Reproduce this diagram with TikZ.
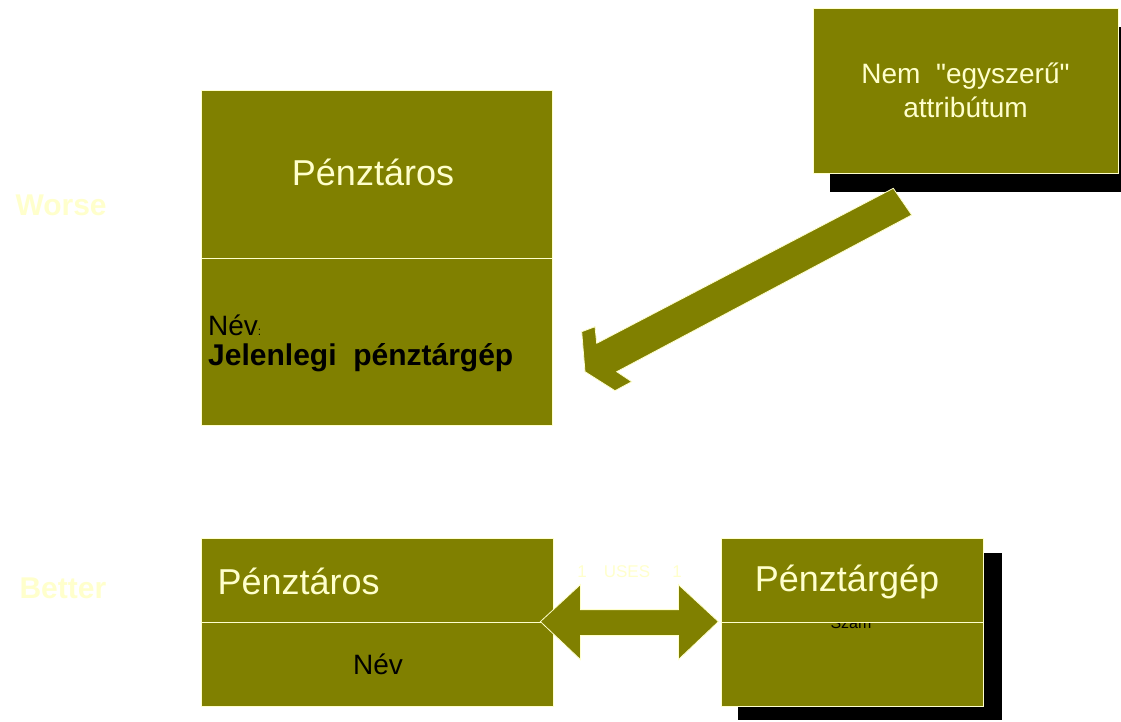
\documentclass[tikz,border=0pt]{standalone}
\usepackage{fontspec}
\setmainfont{Liberation Sans}[Ligatures=TeXOff]
\definecolor{boxolive}{HTML}{808000}
\definecolor{paleyellow}{HTML}{FFFFCC}

\begin{document}
\begin{tikzpicture}[x=1pt,y=-1pt,
    cls/.style={rectangle,fill=boxolive,draw=paleyellow,line width=0.8pt,inner sep=0pt},
    blockarrow/.style={fill=boxolive,draw=paleyellow,line width=0.8pt,line join=miter},
    title/.style={text=paleyellow,font=\fontsize{36}{40}\selectfont},
    side/.style={text=paleyellow,font=\bfseries\fontsize{30}{34}\selectfont},
    attr/.style={text=black,font=\fontsize{28}{32}\selectfont},
    mult/.style={text=paleyellow,font=\fontsize{17}{20}\selectfont}]

  \useasboundingbox[fill=white] (0,0) rectangle (1121,721);

  % shadows
  \fill[black] (830,27) rectangle (1121,192);
  \fill[black] (738,553) rectangle (1002,720);

  % worse
  \node[side,anchor=base west] (worse) at (12,215) {Worse};
  \node[cls,minimum width=351,minimum height=168] (cashier) at (376.5,174) {};
  \node[title] (cashiertitle) at (373,172) {Pénztáros};
  \node[cls,minimum width=351,minimum height=167] (cashierattr) at (376.5,341.5) {};
  \node[attr,anchor=base west,inner sep=0pt] (namelbl) at (208,335)
        {Név{\fontsize{12}{14}\selectfont:}};
  \node[attr,anchor=base west,inner sep=0pt,font=\bfseries\fontsize{30}{32}\selectfont]
        (nameval) at (208,365) {Jelenlegi\ \ pénztárgép};

  \node[cls,minimum width=305,minimum height=165,text=paleyellow,align=center,
        font=\fontsize{28}{34}\selectfont] (note) at (965.5,90.5)
        {Nem\ \ "egyszerű"\\attribútum};

  \draw[blockarrow] (893.3,188.3) -- (911.7,215) -- (616.7,371.7) -- (631.7,381.7)
        -- (615,390.7) -- (585,371.7) -- (581.7,331.7) -- (595,326.7)
        -- (596.7,343.3) -- cycle;

  % better
  \node[side,anchor=base west] (better) at (16,598) {Better};
  \node[cls,minimum width=352,minimum height=84] (cashiertwo) at (377,580) {};
  \node[title,anchor=west] (cashiertwotitle) at (214,581) {Pénztáros};
  \node[cls,minimum width=352,minimum height=84] (cashiertwoattr) at (377,664) {};
  \node[attr] (nametwo) at (378,664) {Név};

  \node[cls,minimum width=262,minimum height=84] (registerattr) at (852,664) {};
  \node[text=black,font=\fontsize{16}{18}\selectfont,anchor=base] (numlbl) at (851,628) {Szám};
  \node[cls,minimum width=262,minimum height=84] (register) at (852,580) {};
  \node[title] (registertitle) at (847,582) {Pénztárgép};

  \draw[blockarrow] ([xshift=-13]cashiertwoattr.north east) -- ++(40,-37) -- ++(0,25)
        -- ++(98,0) -- ++(0,-25) -- ++(40,37) -- ++(-40,38) -- ++(0,-24)
        -- ++(-98,0) -- ++(0,24) -- cycle;
  \node[mult] (multleft) at (582,572) {1};
  \node[mult] (uses) at (627,572) {USES};
  \node[mult] (multright) at (677,572) {1};
\end{tikzpicture}
\end{document}
